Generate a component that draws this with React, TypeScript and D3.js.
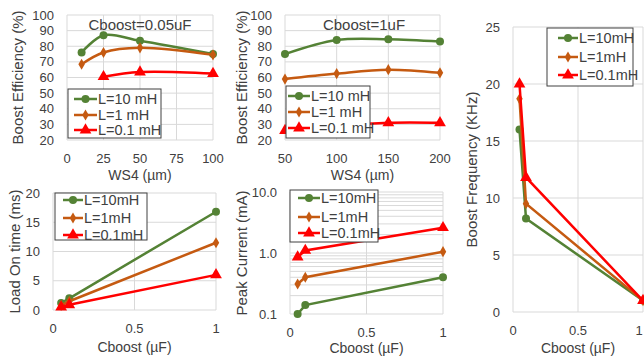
import * as d3 from 'd3';

// ---- data ----
const WS4_A = [10, 25, 50, 100];
const WS4_A_RED = [25, 50, 100];
const EFF_A_10 = [76, 87, 83.5, 75];
const EFF_A_1 = [68.5, 76, 79, 74.5];
const EFF_A_01 = [60.5, 63.5, 62.5];

const WS4_B = [50, 100, 150, 200];
const EFF_B_10 = [75, 84, 84.5, 83];
const EFF_B_1 = [59, 62.5, 65, 63];
const EFF_B_01 = [26, 29, 31, 31];

const CBOOST = [0.05, 0.1, 1];
const FREQ_10 = [16, 8.2, 1];
const FREQ_1 = [18.7, 9.5, 1];
const FREQ_01 = [20, 11.8, 1];
const LOAD_10 = [1.2, 2, 16.8];
const LOAD_1 = [0.8, 1.5, 11.5];
const LOAD_01 = [0.5, 0.9, 6];
const PEAK_10 = [0.1, 0.14, 0.4];
const PEAK_1 = [0.31, 0.4, 1.05];
const PEAK_01 = [0.86, 1.1, 2.6];

const EFF_TICKS = [20, 30, 40, 50, 60, 70, 80, 90, 100];
const WS4_A_TICKS = [0, 25, 50, 75, 100];
const WS4_B_TICKS = [50, 100, 150, 200];
const C_TICKS = [0, 0.5, 1];
const FREQ_TICKS = [0, 5, 10, 15, 20, 25];
const LOAD_TICKS = [0, 5, 10, 15, 20];
const PEAK_TICKS = [0.1, 1, 10];

const GREEN = '#548235';
const ORANGE = '#c55a11';
const RED = '#ff0000';
const GRID = '#d9d9d9';
const TEXT = '#404040';
const FONT = '"Liberation Sans", Arial, sans-serif';

type Marker = 'circle' | 'diamond' | 'triangle';
interface Series { name: string; xs: number[]; ys: number[]; color: string; marker: Marker }

function mark(m: Marker, color: string, x: number, y: number, key: any) {
  if (m === 'circle') return <circle key={key} cx={x} cy={y} r={4} fill={color} />;
  const sym = m === 'diamond' ? d3.symbolDiamond : d3.symbolTriangle;
  const size = m === 'diamond' ? 36 : 60;
  return <path key={key} d={d3.symbol(sym, size)() as string} transform={`translate(${x},${y})`} fill={color} />;
}

interface PanelProps {
  box: [number, number, number, number]; // left, right, top, bottom
  xDomain: [number, number];
  yDomain: [number, number];
  log?: boolean;
  xTicks: number[];
  yTicks: number[];
  yFmt?: (v: number) => string;
  series: Series[];
  smooth?: boolean;
  title?: string;
  titleX?: number;
  xTitle: string;
  xTitleY: number;
  yTitle: string;
  yTitleX: number;
  legend: { x: number; y: number; w: number; h: number; rows: number[]; lineX: [number, number] };
}

function Panel(p: PanelProps) {
  const [l, r, t, b] = p.box;
  const x = d3.scaleLinear().domain(p.xDomain).range([l, r]);
  const y = p.log
    ? d3.scaleLog().domain(p.yDomain).range([b, t])
    : d3.scaleLinear().domain(p.yDomain).range([b, t]);
  const minor: number[] = [];
  if (p.log) {
    for (let dec = p.yDomain[0]; dec < p.yDomain[1]; dec *= 10)
      for (let k = 2; k <= 9; k++) minor.push(dec * k);
  }
  const fmt = p.yFmt || ((v: number) => String(v));
  const lg = p.legend;
  return (
    <g fontFamily={FONT} fill={TEXT}>
      {minor.map((v, i) => (
        <line key={'m' + i} x1={l} x2={r} y1={y(v)} y2={y(v)} stroke={GRID} strokeWidth={1} />
      ))}
      {p.yTicks.map((v) => (
        <line key={'gy' + v} x1={l} x2={r} y1={y(v)} y2={y(v)} stroke={GRID} strokeWidth={1} />
      ))}
      {p.xTicks.map((v) => (
        <line key={'gx' + v} x1={x(v)} x2={x(v)} y1={t} y2={b} stroke={GRID} strokeWidth={1} />
      ))}
      {p.yTicks.map((v) => (
        <text key={'ty' + v} x={l - 13} y={y(v)} dy="0.35em" textAnchor="end" fontSize={13}>{fmt(v)}</text>
      ))}
      {p.xTicks.map((v) => (
        <text key={'tx' + v} x={Math.min(x(v), 639)} y={b + 18} dy="0.35em" textAnchor="middle" fontSize={13}>{String(v)}</text>
      ))}
      {p.series.map((s) => {
        const pts = s.xs.map((xv, i) => [x(xv), y(s.ys[i])] as [number, number]);
        const gen = d3.line().curve(p.smooth ? d3.curveCatmullRom.alpha(0.5) : d3.curveLinear);
        return (
          <g key={s.name}>
            <path d={gen(pts) as string} fill="none" stroke={s.color} strokeWidth={2.5} />
            {pts.map((pt, i) => mark(s.marker, s.color, pt[0], pt[1], i))}
          </g>
        );
      })}
      {p.title && (
        <text x={p.titleX} y={t + 10} dy="0.35em" textAnchor="middle" fontSize={15}>{p.title}</text>
      )}
      <text x={(l + r) / 2} y={p.xTitleY} dy="0.35em" textAnchor="middle" fontSize={14}>{p.xTitle}</text>
      <text transform={`translate(${p.yTitleX},${(t + b) / 2}) rotate(-90)`} dy="0.35em" textAnchor="middle" fontSize={15}>{p.yTitle}</text>
      <rect x={lg.x} y={lg.y} width={lg.w} height={lg.h} fill="white" stroke="#404040" strokeWidth={1} />
      {p.series.map((s, i) => (
        <g key={'lg' + i}>
          <line x1={lg.lineX[0]} x2={lg.lineX[1]} y1={lg.rows[i]} y2={lg.rows[i]} stroke={s.color} strokeWidth={2.5} />
          {mark(s.marker, s.color, (lg.lineX[0] + lg.lineX[1]) / 2, lg.rows[i], 'm')}
          <text x={lg.lineX[1] + 1} y={lg.rows[i]} dy="0.35em" fontSize={14.5}>{s.name}</text>
        </g>
      ))}
    </g>
  );
}

const mk = (names: string[], xs: number[][], ys: number[][]): Series[] => [
  { name: names[0], xs: xs[0], ys: ys[0], color: GREEN, marker: 'circle' },
  { name: names[1], xs: xs[1], ys: ys[1], color: ORANGE, marker: 'diamond' },
  { name: names[2], xs: xs[2], ys: ys[2], color: RED, marker: 'triangle' },
];
const SPACED = ['L=10 mH', 'L=1 mH', 'L=0.1 mH'];
const TIGHT = ['L=10mH', 'L=1mH', 'L=0.1mH'];

export default function App() {
  return (
    <div style={{ position: 'fixed', left: 0, top: 0 }}>
      <svg width={644} height={357} style={{ display: 'block', background: 'white' }}>
        <Panel
          box={[67, 213, 15, 140]} xDomain={[0, 100]} yDomain={[20, 100]}
          xTicks={WS4_A_TICKS} yTicks={EFF_TICKS} smooth
          series={mk(SPACED, [WS4_A, WS4_A, WS4_A_RED], [EFF_A_10, EFF_A_1, EFF_A_01])}
          title="Cboost=0.05uF" titleX={140}
          xTitle="WS4 (µm)" xTitleY={175} yTitle="Boost  Efficiency (%)" yTitleX={18}
          legend={{ x: 68, y: 89, w: 93, h: 49, rows: [99, 115, 130], lineX: [74, 97] }}
        />
        <Panel
          box={[285, 440, 15, 140]} xDomain={[50, 200]} yDomain={[20, 100]}
          xTicks={WS4_B_TICKS} yTicks={EFF_TICKS} smooth
          series={mk(SPACED, [WS4_B, WS4_B, WS4_B], [EFF_B_10, EFF_B_1, EFF_B_01])}
          title="Cboost=1uF" titleX={364}
          xTitle="WS4 (µm)" xTitleY={175} yTitle="Boost  Efficiency (%)" yTitleX={242}
          legend={{ x: 286, y: 86, w: 84, h: 52, rows: [96, 112, 128], lineX: [288, 310] }}
        />
        <Panel
          box={[513, 643, 27, 312]} xDomain={[0, 1]} yDomain={[0, 25]}
          xTicks={C_TICKS} yTicks={FREQ_TICKS}
          series={mk(TIGHT, [CBOOST, CBOOST, CBOOST], [FREQ_10, FREQ_1, FREQ_01])}
          xTitle="Cboost (µF)" xTitleY={348} yTitle="Boost  Frequency (KHz)" yTitleX={472}
          legend={{ x: 547, y: 28, w: 86, h: 58, rows: [38, 57, 75], lineX: [558, 578] }}
        />
        <Panel
          box={[53, 216, 193, 310]} xDomain={[0, 1]} yDomain={[0, 20]}
          xTicks={C_TICKS} yTicks={LOAD_TICKS}
          series={mk(TIGHT, [CBOOST, CBOOST, CBOOST], [LOAD_10, LOAD_1, LOAD_01])}
          xTitle="Cboost (µF)" xTitleY={347} yTitle="Load On time (ms)" yTitleX={15}
          legend={{ x: 55, y: 193, w: 92, h: 47, rows: [200, 218, 235], lineX: [63, 83] }}
        />
        <Panel
          box={[290, 443, 192, 314]} xDomain={[0, 1]} yDomain={[0.1, 10]} log
          xTicks={C_TICKS} yTicks={PEAK_TICKS} yFmt={(v) => v.toFixed(1)}
          series={mk(TIGHT, [CBOOST, CBOOST, CBOOST], [PEAK_10, PEAK_1, PEAK_01])}
          xTitle="Cboost (µF)" xTitleY={348} yTitle="Peak Current (mA)" yTitleX={242}
          legend={{ x: 290, y: 190, w: 88, h: 52, rows: [198, 217, 233], lineX: [298, 320] }}
        />
      </svg>
    </div>
  );
}
